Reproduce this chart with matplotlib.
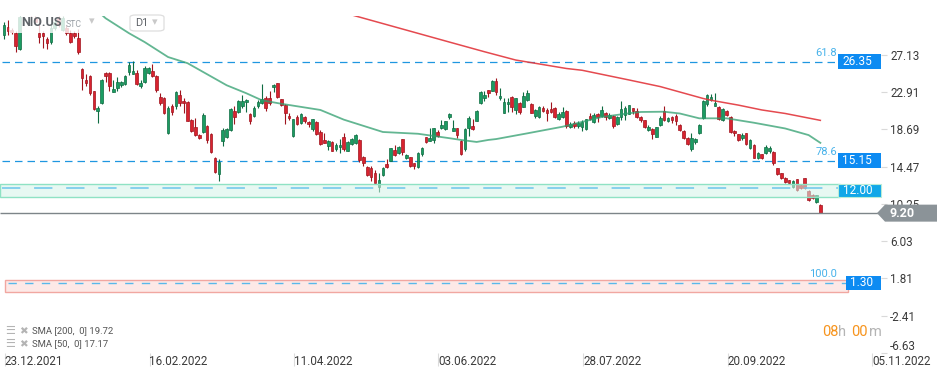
import matplotlib
matplotlib.use("Agg")
import matplotlib.pyplot as plt
from matplotlib.patches import Rectangle, Polygon, FancyBboxPatch
import numpy as np

plt.rcParams['font.family'] = ['Roboto', 'DejaVu Sans']

W, H = 949, 378

# daily candles, NIO.US
opens = [29.4, 30.3, 30.0, 29.6, 27.8, 32.6, 32.0, 32.4, 31.3, 29.6,
         29.6, 28.9, 28.6, 30.2, 31.3, 30.0, 30.2, 29.6, 29.6, 29.1,
         25.5, 24.3, 24.7, 23.0, 20.8, 21.7, 25.1, 25.1, 22.9, 23.4,
         23.7, 23.8, 25.25, 25.0, 25.1, 23.6, 24.1, 25.1, 25.35, 24.8,
         22.4, 22.2, 18.3, 21.35, 21.3, 22.6, 21.9, 21.8, 19.8, 19.0,
         18.06, 18.4, 19.1, 18.2, 15.5, 13.6, 17.4, 17.8, 18.6, 20.8,
         20.7, 21.35, 21.75, 20.4, 20.2, 21.35, 21.65, 22.3, 22.2, 23.5,
         23.9, 22.1, 21.5, 20.2, 17.95, 20.1, 19.4, 20.1, 19.5, 18.7,
         19.5, 18.45, 17.5, 16.8, 17.3, 16.45, 16.7, 17.8, 16.3, 17.0,
         17.1, 17.5, 15.6, 14.4, 14.3, 13.7, 12.2, 13.5, 14.8, 15.15,
         16.35, 16.0, 17.55, 15.5, 15.55, 14.85, 14.4, 15.95, 17.8, 17.4,
         17.5, 18.45, 18.9, 18.75, 20.1, 18.55, 18.8, 17.4, 16.45, 18.8,
         19.1, 19.7, 21.7, 22.25, 23.15, 23.1, 24.2, 22.2, 20.6, 21.55,
         22.35, 20.95, 21.7, 21.25, 22.0, 21.55, 20.25, 20.1, 21.1, 20.9,
         21.0, 21.1, 19.9, 20.05, 20.8, 19.0, 19.45, 19.1, 19.0, 18.7,
         20.2, 19.55, 20.45, 20.25, 20.6, 20.0, 20.25, 19.3, 20.15, 20.35,
         20.45, 21.1, 20.8, 20.15, 19.75, 18.65, 18.7, 17.85, 19.2, 20.75,
         19.65, 20.05, 20.2, 19.25, 18.5, 17.7, 16.45, 17.3, 18.25, 19.95,
         21.6, 22.0, 21.4, 21.25, 19.75, 20.8, 20.15, 18.5, 18.15, 17.7,
         18.25, 16.6, 16.95, 15.5, 15.85, 16.0, 16.25, 16.15, 14.3, 13.7,
         13.2, 12.95, 12.2, 13.05, 12.4, 13.15, 11.7, 11.25, 10.5, 10.1]
highs = [30.9, 31.1, 30.2, 29.8, 31.8, 33.0, 32.9, 32.8, 31.6, 31.3,
         29.9, 29.2, 30.6, 31.3, 31.6, 31.5, 30.5, 30.0, 29.8, 30.1,
         25.7, 25.0, 24.9, 23.1, 21.3, 24.4, 25.2, 25.2, 24.3, 24.6,
         24.2, 24.9, 26.3, 26.4, 25.4, 24.3, 25.9, 25.8, 26.1, 24.9,
         22.8, 22.4, 21.3, 21.6, 23.0, 23.2, 22.3, 21.9, 19.9, 20.0,
         18.2, 20.6, 19.2, 18.3, 15.6, 15.3, 18.8, 18.8, 21.1, 21.3,
         22.0, 22.6, 22.1, 20.6, 21.3, 22.0, 23.8, 22.5, 23.0, 23.8,
         24.0, 22.1, 21.6, 20.6, 19.9, 20.3, 20.5, 20.2, 19.6, 19.9,
         19.6, 18.6, 18.3, 17.5, 17.4, 17.1, 17.6, 18.3, 17.4, 17.7,
         18.2, 17.6, 15.7, 14.5, 14.6, 14.1, 13.8, 14.4, 15.3, 16.6,
         16.9, 16.8, 17.6, 15.9, 15.6, 14.9, 16.1, 16.7, 17.8, 18.8,
         18.85, 18.6, 19.8, 19.7, 20.5, 19.8, 18.9, 17.5, 18.8, 20.2,
         19.9, 20.9, 23.0, 23.1, 23.2, 24.3, 24.5, 23.35, 22.2, 22.3,
         22.5, 22.3, 21.8, 22.9, 23.2, 21.7, 21.0, 21.3, 21.4, 21.1,
         21.8, 21.2, 20.7, 21.2, 20.9, 19.5, 19.6, 19.6, 19.8, 19.9,
         20.6, 20.5, 20.5, 21.4, 20.7, 20.5, 20.3, 20.2, 21.9, 21.3,
         21.5, 21.1, 21.1, 20.2, 19.8, 19.2, 18.9, 19.0, 20.2, 21.3,
         20.1, 20.2, 20.4, 19.3, 18.6, 17.8, 18.25, 17.7, 19.3, 22.0,
         22.7, 22.7, 22.8, 21.3, 21.1, 20.9, 20.2, 18.6, 18.2, 18.3,
         18.3, 17.6, 17.0, 16.1, 15.9, 16.9, 16.8, 16.3, 14.35, 13.8,
         13.3, 13.0, 13.0, 13.1, 12.5, 13.2, 11.8, 11.4, 11.3, 10.2]
lows = [29.0, 29.4, 29.5, 27.5, 27.7, 31.8, 31.7, 31.6, 30.6, 28.5,
        27.9, 27.8, 28.4, 30.0, 30.3, 29.8, 29.4, 28.5, 29.1, 27.3,
        23.2, 23.6, 22.6, 20.9, 19.4, 21.6, 24.1, 23.0, 22.9, 23.0,
        23.5, 23.7, 24.9, 25.0, 23.7, 23.4, 24.0, 25.0, 24.6, 22.9,
        21.5, 20.4, 18.2, 20.3, 21.0, 21.4, 20.5, 19.6, 18.4, 18.0,
        17.6, 18.3, 17.1, 16.0, 13.8, 12.9, 16.8, 17.7, 18.5, 19.3,
        20.6, 21.1, 20.7, 19.3, 20.1, 21.1, 21.6, 20.8, 21.5, 22.9,
        22.3, 21.3, 19.3, 19.8, 17.8, 19.2, 19.3, 19.4, 19.0, 18.5,
        18.1, 16.9, 17.1, 16.4, 16.2, 16.2, 16.0, 16.2, 16.2, 16.9,
        17.0, 15.0, 14.5, 13.4, 12.9, 12.6, 11.6, 13.4, 14.3, 15.1,
        15.7, 15.9, 15.8, 15.3, 14.4, 14.2, 14.3, 15.7, 17.1, 17.4,
        17.2, 17.8, 18.7, 18.6, 19.9, 18.5, 17.7, 15.8, 16.3, 17.9,
        18.6, 19.6, 21.6, 21.9, 22.4, 23.0, 22.6, 22.0, 20.5, 20.7,
        20.7, 20.4, 20.4, 21.2, 21.9, 20.5, 20.0, 20.0, 20.7, 19.7,
        20.6, 20.0, 19.8, 20.0, 18.9, 18.8, 18.85, 18.8, 18.5, 18.6,
        19.8, 19.4, 19.5, 20.1, 19.8, 19.9, 18.9, 19.2, 19.8, 19.8,
        20.4, 20.4, 20.0, 19.5, 18.9, 18.5, 17.6, 17.8, 19.1, 19.7,
        19.5, 19.4, 19.2, 18.5, 17.6, 16.9, 16.3, 17.0, 18.2, 19.9,
        21.3, 21.9, 21.3, 19.8, 19.7, 20.2, 18.3, 18.0, 17.4, 17.5,
        16.9, 16.5, 15.4, 15.3, 15.3, 15.9, 16.0, 14.7, 13.5, 13.1,
        12.6, 12.5, 12.1, 11.7, 11.9, 11.9, 10.6, 10.8, 10.4, 9.2]
closes = [30.5, 29.8, 29.7, 28.1, 31.4, 32.0, 32.5, 31.8, 30.9, 29.2,
          29.3, 28.5, 30.2, 30.9, 30.5, 31.3, 29.6, 28.6, 29.3, 27.5,
          24.5, 23.9, 22.8, 21.0, 21.1, 24.3, 24.7, 23.6, 23.3, 24.1,
          24.1, 24.8, 26.0, 25.3, 23.8, 24.0, 25.7, 25.6, 24.75, 23.2,
          21.7, 20.5, 21.1, 20.7, 22.9, 21.7, 21.65, 19.7, 18.55, 18.1,
          17.75, 20.3, 17.5, 16.1, 13.9, 15.0, 18.6, 18.7, 21.0, 20.1,
          21.9, 21.95, 22.0, 19.7, 21.1, 21.85, 22.1, 21.1, 21.7, 23.7,
          22.4, 21.5, 20.5, 19.95, 19.85, 19.3, 20.4, 19.7, 19.3, 19.85,
          18.2, 17.05, 17.2, 17.4, 16.3, 16.9, 16.9, 16.45, 17.3, 17.55,
          18.1, 15.2, 14.85, 13.5, 13.25, 12.65, 12.95, 14.3, 14.45, 16.55,
          15.8, 16.75, 16.15, 15.8, 14.55, 14.55, 16.05, 16.55, 17.3, 17.7,
          18.8, 17.95, 19.15, 19.6, 20.45, 18.9, 18.05, 15.9, 18.7, 19.95,
          18.75, 20.8, 22.9, 22.6, 22.85, 24.2, 22.9, 22.5, 21.85, 21.85,
          21.25, 22.2, 20.7, 22.5, 22.8, 20.5, 20.9, 21.2, 20.8, 20.6,
          20.7, 20.15, 20.45, 20.7, 19.1, 19.3, 19.1, 19.45, 19.55, 19.85,
          19.9, 20.35, 20.05, 20.9, 20.15, 20.35, 19.1, 20.15, 21.0, 21.15,
          21.45, 20.8, 20.05, 19.75, 18.95, 19.0, 18.15, 18.95, 20.0, 19.8,
          20.0, 19.75, 19.65, 18.65, 17.7, 17.05, 17.7, 17.6, 19.25, 21.9,
          22.6, 22.4, 21.65, 19.9, 21.0, 20.35, 18.35, 18.25, 17.5, 18.05,
          17.0, 17.5, 15.5, 16.0, 15.5, 16.75, 16.6, 14.85, 13.6, 13.15,
          12.7, 12.6, 12.85, 11.8, 12.0, 12.0, 10.7, 10.95, 11.25, 9.2]

# moving averages, read at bar positions
sma200_idx = [88, 101, 114, 123, 131, 144, 148, 160, 168, 179, 181, 188, 194, 200, 209]
sma200_val = [31.8, 30.2, 28.6, 27.5, 26.56, 25.6, 25.4, 24.3, 23.55, 22.2, 22.0, 21.45, 20.9, 20.5, 19.72]
sma50_idx = [25, 26, 32, 36, 42, 47, 57, 62, 66, 71, 81, 87, 97, 106, 114, 117, 121, 124, 126,
             134, 143, 150, 153, 160, 163, 169, 173, 178, 185, 192, 200, 206, 209]
sma50_val = [31.7, 31.3, 29.6, 28.6, 26.9, 26.2, 23.7, 22.8, 22.0, 21.6, 20.9, 19.8, 18.4, 18.2, 17.7, 17.5,
             17.27, 17.5, 17.6, 18.25, 19.0, 19.76, 20.1, 20.52, 20.67, 20.7, 20.5, 19.95, 19.95, 19.45,
             18.8, 18.05, 17.17]

price_ticks = [27.13, 22.91, 18.69, 14.47, 10.25, 6.03, 1.81, -2.41, -6.63]
date_labels = ['23.12.2021', '16.02.2022', '11.04.2022', '03.06.2022',
               '28.07.2022', '20.09.2022', '05.11.2022']

fib_levels = [26.35, 15.15]
fib_names = ['61.8', '78.6']
zone_level, zone_lo, zone_hi = 12.00, 11.06, 12.5
target_level, target_lo, target_hi = 1.30, 0.25, 1.62
target_name = '100.0'
last_price = 9.20


# pixel -> data helpers (chart calibration)
def ix(px):
    return (px - 4.0) / 3.906


def py(pxy):
    return 27.13 - (pxy - 55.0) / 8.82


PPU = 8.82  # pixels per price unit

fig = plt.figure(figsize=(W / 100, H / 100), dpi=100)
ax = fig.add_axes([0, 25 / H, 881 / W, 337 / H])
ax.set_xlim(ix(0), ix(881))
ax.set_ylim(py(353), py(16))
for s in ax.spines.values():
    s.set_visible(False)

# candles
o = np.array(opens)
c = np.array(closes)
idx = np.arange(len(o))
up = c >= o
g_face, g_edge = '#1b9c62', '#0f6c42'
r_face, r_edge = '#d8232f', '#a0141e'
ax.vlines(idx, lows, highs, colors=np.where(up, g_edge, r_edge), lw=0.8, zorder=3)
body_lo = np.minimum(o, c)
body_h = np.maximum(np.abs(c - o), 0.13)
ax.bar(idx, body_h, bottom=body_lo, width=0.68, color=np.where(up, g_face, r_face),
       edgecolor=np.where(up, g_edge, r_edge), linewidth=0.5, zorder=3)

# SMAs
ax.plot(sma200_idx, sma200_val, color='#e2363c', lw=1.1, alpha=0.9, zorder=4)
ax.plot(sma50_idx, sma50_val, color='#2f9e6e', lw=1.3, alpha=0.75, zorder=4)

# fibonacci levels
for lvl, name in zip(fib_levels, fib_names):
    ax.hlines(lvl, ix(2), ix(838), color='#1f97e0', lw=0.9, linestyles=(0, (6, 4)), zorder=2)
    ax.text(ix(837), lvl + 9 / PPU, name, color='#47b2ea', fontsize=8, ha='right', va='center', zorder=6)
    ax.add_patch(Rectangle((ix(838), lvl - 7.5 / PPU), ix(881) - ix(838), 15 / PPU,
                           facecolor='#0d8bf2', edgecolor='none', zorder=8, clip_on=False))
    ax.text(ix(842), lvl, f'{lvl:.2f}', color='white', fontsize=8.5, va='center', ha='left', zorder=9)

# support zone
ax.add_patch(Rectangle((ix(0), zone_lo), ix(840) - ix(0), zone_hi - zone_lo,
                       facecolor='#d4f4e8', alpha=0.55, edgecolor='none', zorder=5))
ax.add_patch(Rectangle((ix(0), zone_lo), ix(840) - ix(0), zone_hi - zone_lo,
                       facecolor='none', edgecolor='#8fe2c4', lw=1, zorder=5))
ax.hlines(zone_level, ix(2), ix(838), color='#6cc6ec', lw=1.1, linestyles=(0, (12, 9)), zorder=5)
ax.add_patch(Rectangle((ix(838), zone_lo), ix(881) - ix(838), zone_hi - zone_lo,
                       facecolor='#10a7e8', edgecolor='#b9ecd6', lw=0.8, zorder=8, clip_on=False))
ax.text(ix(843), (zone_lo + zone_hi) / 2, f'{zone_level:.2f}', color='white', fontsize=8.5,
        va='center', ha='left', zorder=9)

# target zone
ax.add_patch(Rectangle((ix(5), target_lo), ix(848) - ix(5), target_hi - target_lo,
                       facecolor='#fde9e7', edgecolor='#f1a7a1', lw=1, zorder=2))
ax.hlines(target_level, ix(8), ix(846), color='#5ab8ea', lw=1.0, linestyles=(0, (6, 6)), zorder=3)
ax.text(ix(837), target_level + 9 / PPU, target_name, color='#47b2ea', fontsize=8, ha='right',
        va='center', zorder=6)
ax.add_patch(Rectangle((ix(846), target_level - 7 / PPU), ix(881) - ix(846), 14 / PPU,
                       facecolor='#0d8bf2', edgecolor='none', zorder=8, clip_on=False))
ax.text(ix(850), target_level, f'{target_level:.2f}', color='white', fontsize=8.5, va='center',
        ha='left', zorder=9)

# last price line and tag
ax.hlines(last_price, ix(0), ix(878), color='#7d8589', lw=1.0, zorder=6, clip_on=False)
hh = 8.5 / PPU
tag = Polygon([(ix(877), last_price), (ix(885), last_price + hh), (ix(937), last_price + hh),
               (ix(937), last_price - hh), (ix(885), last_price - hh)], closed=True,
              facecolor='#8b9398', edgecolor='none', zorder=10, clip_on=False)
ax.add_patch(tag)
ax.text(ix(890), last_price, f'{last_price:.2f}', color='white', fontsize=9, fontweight='bold',
        va='center', ha='left', zorder=11, clip_on=False)

# axes ticks
ax.yaxis.tick_right()
ax.set_yticks(price_ticks)
ax.set_yticklabels([f'{v:.2f}' for v in price_ticks])
ax.tick_params(axis='y', direction='out', length=4.3, width=0.8, color='#d9d9d9', pad=2.2,
               labelsize=8.4, labelcolor='#3a3a3a')
ax.get_yticklabels()[-1].set_va('bottom')

tick0, tick_step = ix(5), 144.5 / 3.906
ax.set_xticks([tick0 + k * tick_step for k in range(len(date_labels))])
ax.set_xticklabels(date_labels, ha='left')
ax.tick_params(axis='x', direction='out', length=9, width=0.8, color='#dcdcdc', pad=-7.5,
               labelsize=8.4, labelcolor='#3a3a3a')

# header overlay
ax.add_patch(Rectangle((ix(9), py(32.5)), ix(101) - ix(9), py(10) - py(32.5),
                       facecolor='white', alpha=0.8, edgecolor='none', zorder=7))
fig.text(21 / W, 1 - 23 / H, 'NIO.US', fontsize=9, fontweight='bold', color='#5f6469', va='center')
fig.text(66 / W, 1 - 24.5 / H, 'STC', fontsize=6.3, color='#9aa0a6', va='center')
fig.text(89 / W, 1 - 21 / H, '\u25be', fontsize=8, color='#c9c9c9', va='center')
fig.add_artist(FancyBboxPatch((130 / W, 1 - 31 / H), 34 / W, 16 / H,
                              boxstyle='round,pad=0,rounding_size=0.006',
                              transform=fig.transFigure, facecolor='white', edgecolor='#dedede', lw=0.9))
fig.text(135 / W, 1 - 23 / H, 'D1', fontsize=7.8, color='#5f6368', va='center')
fig.text(152 / W, 1 - 22.5 / H, '\u25be', fontsize=8, color='#c9c9c9', va='center')

# indicator legend
for row, (per, val) in enumerate([(200, sma200_val[-1]), (50, sma50_val[-1])]):
    yy = 1 - (331 + 13 * row) / H
    fig.text(5 / W, yy, '\u2630', fontsize=8, color='#b4b4b4', va='center')
    fig.text(19 / W, yy, '\u2716', fontsize=7.5, color='#b4b4b4', va='center')
    fig.text(32 / W, yy, f'SMA [{per},  0] {val:.2f}', fontsize=6.8, color='#555555', va='center')

# countdown
for txt, xx, col in [('08', 822, '#f7941d'), ('h', 838, '#b4b4b4'), ('00', 851, '#f7941d'), ('m', 869, '#b4b4b4')]:
    fig.text(xx / W, 1 - 332 / H, txt, fontsize=10.5, color=col, va='center')

fig.savefig('out.png', dpi=100)
